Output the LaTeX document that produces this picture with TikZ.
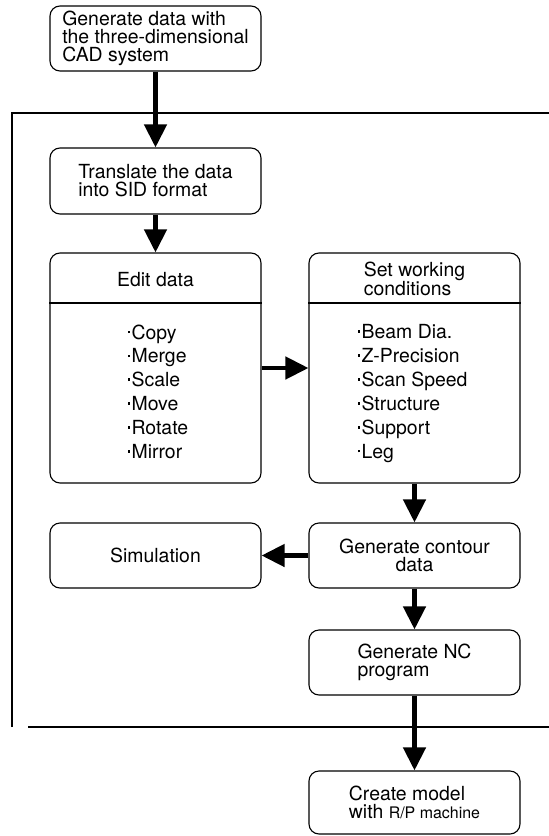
\documentclass[tikz,border=0pt]{standalone}
\usepackage{fontspec}
\setmainfont{TeX Gyre Heros}
\usetikzlibrary{arrows.meta}
\newcommand{\bul}{\raisebox{.3em}{\rule{2.6bp}{2.6bp}}\hspace{1.5bp}}

\begin{document}
\begin{tikzpicture}[x=1bp,y=-1bp,font=\fontsize{19.5}{18}\selectfont,
  box/.style={draw,rounded corners=10bp,line width=1.1bp,minimum width=211bp,inner sep=0pt},
  flow/.style={-{Triangle[length=23bp,width=22bp]},line width=4.5bp},
  frame/.style={line width=1.8bp},
  items/.style={align=left,anchor=north west,font=\fontsize{19.5}{24}\selectfont}]
  \useasboundingbox (0,0) rectangle (549,836);
  \draw[frame] (12,727) -- (12,113) -- (549,113);
  \draw[frame] (28,727) -- (549,727);
  \node[box,minimum height=65bp,align=left] (cad) at (155.5,38.5)
    {Generate data with\\the three-dimensional\\CAD system};
  \node[box,minimum height=66bp,align=left] (translate) at (155.5,181)
    {Translate the data\\into SID format};
  \node[box,minimum height=230bp] (edit) at (155.5,368) {};
  \node (edithead) at (155.5,280) {Edit data};
  \draw[line width=1.1bp] (edit.west |- 0,303) -- (edit.east |- 0,303);
  \node[items] (editlist) at (124,321)
    {\bul Copy\\\bul Merge\\\bul Scale\\\bul Move\\\bul Rotate\\\bul Mirror};
  \node[box,minimum height=230bp] (set) at (414.5,368) {};
  \node[align=left] (sethead) at (414.5,279) {Set working\\conditions};
  \draw[line width=1.1bp] (set.west |- 0,303) -- (set.east |- 0,303);
  \node[items] (setlist) at (354,321)
    {\bul Beam Dia.\\\bul Z-Precision\\\bul Scan Speed\\\bul Structure\\\bul Support\\\bul Leg};
  \node[box,minimum height=65bp,align=center] (contour) at (414.5,555.5)
    {Generate contour\\data};
  \node[box,minimum height=65bp] (sim) at (155.5,555.5) {Simulation};
  \node[box,minimum height=65bp,align=left] (nc) at (414.5,662.5)
    {Generate NC\\program};
  \node[box,minimum height=63bp,align=left] (model) at (414.5,802.5)
    {Create model\\with {\fontsize{16}{18}\selectfont R/P machine}};
  \draw[flow] (cad) -- (translate);
  \draw[flow] (translate) -- (edit);
  \draw[flow] (edit) -- (set);
  \draw[flow] (set) -- (contour);
  \draw[flow] (contour) -- (sim);
  \draw[flow] (contour) -- (nc);
  \draw[flow] (nc) -- (model);
\end{tikzpicture}
\end{document}
